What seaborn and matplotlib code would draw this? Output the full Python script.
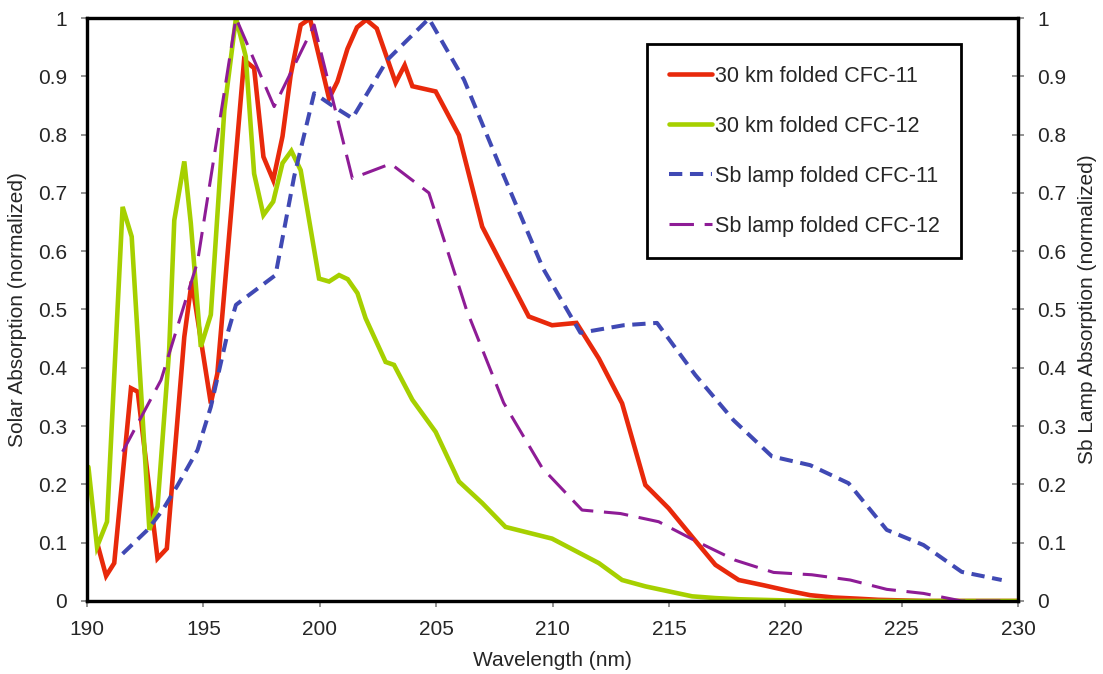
import numpy as np
import pandas as pd
import matplotlib
matplotlib.use("Agg")
import matplotlib.pyplot as plt
from matplotlib.ticker import FuncFormatter, MultipleLocator
import seaborn as sns

# ---------------- data ----------------
red_wl = [190.46, 190.82, 191.17, 191.89, 192.18, 193.03, 193.43, 194.18, 194.5,
          195.32, 195.6, 196.47, 196.75, 197.18, 197.58, 198.0, 198.4, 198.75,
          199.18, 199.58, 200.4, 200.76, 201.19, 201.6, 202.0, 202.45, 203.26,
          203.65, 203.98, 204.98, 205.98, 206.98, 207.98, 208.98, 209.98, 211.03,
          211.99, 212.99, 213.99, 214.99, 216.0, 217.0, 218.0, 219.07, 220.07,
          221.07, 222.07, 223.1, 224.0, 225.0, 226.0, 228.0, 230.0]
red_val = [0.096, 0.043, 0.065, 0.365, 0.359, 0.073, 0.090, 0.453, 0.548,
           0.339, 0.390, 0.797, 0.928, 0.914, 0.762, 0.722, 0.797, 0.902,
           0.988, 0.999, 0.862, 0.891, 0.947, 0.984, 0.997, 0.982, 0.889,
           0.919, 0.883, 0.874, 0.799, 0.642, 0.565, 0.488, 0.473, 0.477,
           0.416, 0.339, 0.199, 0.159, 0.110, 0.062, 0.036, 0.027, 0.018,
           0.010, 0.006, 0.004, 0.002, 0.001, 0.0, 0.0, 0.0]

green_wl = [190.06, 190.43, 190.86, 191.53, 191.92, 192.68, 193.03, 193.53, 193.75,
            194.18, 194.46, 194.89, 195.32, 195.9, 196.4, 196.82, 197.18, 197.58,
            198.0, 198.4, 198.78, 199.18, 199.97, 200.4, 200.83, 201.2, 201.62,
            201.97, 202.83, 203.19, 203.98, 204.98, 205.98, 206.98, 207.98, 209.98,
            211.99, 212.99, 214.0, 216.0, 217.0, 218.0, 220.0, 222.0, 226.0, 230.0]
green_val = [0.230, 0.093, 0.136, 0.676, 0.625, 0.122, 0.162, 0.430, 0.653,
             0.754, 0.648, 0.436, 0.491, 0.842, 1.000, 0.934, 0.733, 0.662,
             0.685, 0.751, 0.772, 0.739, 0.553, 0.548, 0.559, 0.552, 0.528,
             0.485, 0.410, 0.405, 0.345, 0.290, 0.205, 0.168, 0.127, 0.107,
             0.065, 0.036, 0.025, 0.008, 0.005, 0.003, 0.001, 0.0, 0.0, 0.0]

blue_wl = [191.53, 192.6, 193.25, 193.9, 194.75, 195.32, 196.04, 196.4, 198.1,
           198.9, 199.76, 200.6, 201.4, 202.9, 204.69, 206.2, 207.9, 209.6,
           211.2, 213.06, 214.49, 216.13, 217.78, 219.43, 221.07, 222.72, 224.36,
           225.94, 227.58, 229.3]
blue_val = [0.081, 0.122, 0.156, 0.199, 0.259, 0.333, 0.459, 0.508, 0.559,
            0.728, 0.871, 0.848, 0.828, 0.928, 0.999, 0.894, 0.730, 0.570,
            0.460, 0.473, 0.477, 0.388, 0.310, 0.248, 0.233, 0.202, 0.122,
            0.096, 0.050, 0.036]

purple_wl = [191.53, 193.18, 194.75, 196.4, 198.04, 199.76, 201.4, 203.05, 204.69,
             206.3, 207.9, 209.56, 211.27, 212.92, 214.56, 216.2, 217.85, 219.5,
             221.14, 222.79, 224.36, 225.94, 227.58, 229.3]
purple_val = [0.256, 0.379, 0.582, 1.000, 0.848, 0.988, 0.725, 0.750, 0.700,
              0.500, 0.340, 0.228, 0.156, 0.150, 0.136, 0.102, 0.070, 0.049,
              0.045, 0.036, 0.020, 0.013, 0.0, 0.0]

labels = ["30 km folded CFC-11", "30 km folded CFC-12",
          "Sb lamp folded CFC-11", "Sb lamp folded CFC-12"]
x_ticks = [190, 195, 200, 205, 210, 215, 220, 225, 230]

# ---------------- style ----------------
sns.set_style("white")
plt.rcParams['font.family'] = ['Liberation Sans', 'DejaVu Sans']
FS = 15

fig = plt.figure(figsize=(11.03, 6.74), dpi=100)
ax = fig.add_axes([87/1103, 1 - 601/674, (1018-87)/1103, (601-18)/674])
ax2 = ax.twinx()

c_red = "#E8290B"
c_green = "#A6D000"
c_blue = "#4049B4"
c_purple = "#8E1C96"

sns.lineplot(x=red_wl, y=red_val, ax=ax, color=c_red, lw=3.3, label=labels[0],
             legend=False, solid_joinstyle="miter")
sns.lineplot(x=green_wl, y=green_val, ax=ax, color=c_green, lw=3.3, label=labels[1],
             legend=False, solid_joinstyle="miter")
sns.lineplot(x=blue_wl, y=blue_val, ax=ax2, color=c_blue, lw=2.9, label=labels[2],
             legend=False, linestyle=(0, (3.3, 1.9)))
sns.lineplot(x=purple_wl, y=purple_val, ax=ax2, color=c_purple, lw=2.2, label=labels[3],
             legend=False, linestyle=(0, (8, 3.5)))

for a in (ax, ax2):
    a.set_xlim(190, 230)
    a.set_ylim(0, 1)
    a.yaxis.set_major_locator(MultipleLocator(0.1))
    a.yaxis.set_major_formatter(FuncFormatter(lambda v, _: f"{v:g}"))
    for s in a.spines.values():
        s.set_color("black")
        s.set_linewidth(2.3)
    a.set_facecolor("none")

ax.set_xticks(x_ticks)
ax.xaxis.set_major_formatter(FuncFormatter(lambda v, _: f"{v:g}"))
ax.tick_params(axis="x", direction="out", length=4.5, width=1.2, color="#808080",
               labelsize=FS, pad=9, bottom=True)
ax.tick_params(axis="y", direction="out", length=4.5, width=1.2, color="#808080",
               labelsize=FS, pad=10, left=True)
ax2.tick_params(axis="y", direction="inout", length=8, width=1.2, color="#808080",
                labelsize=FS, pad=10, right=True)

ax.set_xlabel("Wavelength (nm)", fontsize=FS, labelpad=9)
ax.set_ylabel("Solar Absorption (normalized)", fontsize=FS)
ax2.set_ylabel("Sb Lamp Absorption (normalized)", fontsize=FS)
ax.yaxis.set_label_coords(-0.0645, 0.5)
ax2.yaxis.set_label_coords(1.064, 0.5)

h1, l1 = ax.get_legend_handles_labels()
h2, l2 = ax2.get_legend_handles_labels()
leg = ax2.legend(h1 + h2, l1 + l2, loc="upper left",
                 bbox_to_anchor=((647-87)/931, (601-44)/583),
                 fontsize=15.5, frameon=True, fancybox=False, framealpha=1,
                 edgecolor="black", borderpad=1.0, labelspacing=1.35,
                 handlelength=2.0, handletextpad=0.15, borderaxespad=0)
leg.get_frame().set_linewidth(2.0)

fig.savefig("out.png", dpi=100)
